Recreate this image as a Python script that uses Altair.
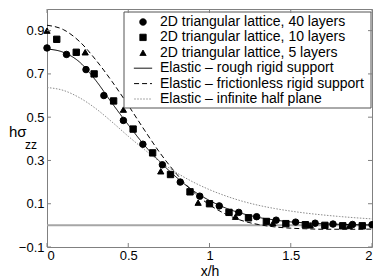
import altair as alt
import pandas as pd

# ---------------- data ----------------
series_names = [
    "2D triangular lattice, 40 layers",
    "2D triangular lattice, 10 layers",
    "2D triangular lattice, 5 layers",
    "Elastic – rough rigid support",
    "Elastic – frictionless rigid support",
    "Elastic – infinite half plane",
]

x_curve = [0.0, 0.1, 0.2, 0.3, 0.4, 0.5, 0.6, 0.7, 0.8, 0.9, 1.0,
           1.1, 1.2, 1.3, 1.4, 1.5, 1.6, 1.7, 1.8, 1.9, 2.0]
rough = [0.815, 0.80, 0.755, 0.67, 0.565, 0.465, 0.37, 0.29, 0.22, 0.16, 0.115,
         0.08, 0.055, 0.037, 0.025, 0.016, 0.011, 0.007, 0.005, 0.003, 0.002]
frictionless = [0.925, 0.905, 0.85, 0.765, 0.665, 0.555, 0.44, 0.33, 0.235, 0.155, 0.095,
                0.052, 0.022, 0.004, -0.007, -0.013, -0.016, -0.018, -0.018, -0.018, -0.017]
half_plane = [0.637, 0.624, 0.59, 0.54, 0.478, 0.412, 0.35, 0.292, 0.242, 0.2, 0.165,
              0.136, 0.112, 0.093, 0.078, 0.066, 0.056, 0.048, 0.041, 0.035, 0.03]

x_40 = [0.0, 0.12, 0.24, 0.35, 0.47, 0.59, 0.71, 0.82, 0.94, 1.06, 1.18, 1.29,
        1.41, 1.53, 1.65, 1.76, 1.88, 2.0]
y_40 = [0.82, 0.79, 0.72, 0.60, 0.485, 0.375, 0.28, 0.20, 0.135, 0.09, 0.06, 0.04,
        0.024, 0.015, 0.01, 0.006, 0.004, 0.003]

x_10 = [0.06, 0.18, 0.29, 0.41, 0.53, 0.65, 0.76, 0.88, 1.0, 1.12, 1.24, 1.35,
        1.47, 1.59, 1.71, 1.82, 1.94]
y_10 = [0.86, 0.80, 0.70, 0.575, 0.445, 0.335, 0.235, 0.155, 0.10, 0.06, 0.035, 0.018,
        0.008, 0.003, 0.0, -0.002, -0.002]

x_5 = [0.0, 0.235, 0.47, 0.70, 0.93, 1.16, 1.39, 1.62, 1.86]
y_5 = [0.90, 0.80, 0.535, 0.25, 0.105, 0.04, 0.01, 0.0, -0.003]

x_ticks = [0, 0.5, 1, 1.5, 2]
y_ticks = [-0.1, 0.1, 0.3, 0.5, 0.7, 0.9]

# ---------------- tables ----------------
pts = pd.concat([
    pd.DataFrame({"x": x_40, "y": y_40, "series": series_names[0]}),
    pd.DataFrame({"x": x_10, "y": y_10, "series": series_names[1]}),
    pd.DataFrame({"x": x_5, "y": y_5, "series": series_names[2]}),
])
lines = pd.concat([
    pd.DataFrame({"x": x_curve, "y": rough, "series": series_names[3]}),
    pd.DataFrame({"x": x_curve, "y": frictionless, "series": series_names[4]}),
    pd.DataFrame({"x": x_curve, "y": half_plane, "series": series_names[5]}),
])

FONT = "Liberation Sans"
W, H = 325, 238

xs = alt.Scale(domain=[0, 2], nice=False, zero=False)
ys = alt.Scale(domain=[-0.1, 1.0], nice=False, zero=False)

x_axis = alt.Axis(values=x_ticks, format="~g", title="x/h", labelPadding=2,
                  titlePadding=2, ticks=False, domain=False, grid=False)
y_axis = alt.Axis(values=y_ticks, format=".1f", title="", labelPadding=3,
                  labelExpr="replace(datum.label, '-', '\u2212')",
                  ticks=False, domain=False, grid=False)


def X(field):
    return alt.X(field, scale=xs, axis=x_axis)


def Y(field):
    return alt.Y(field, scale=ys, axis=y_axis)


legend = alt.Legend(
    title=None, orient="none", legendX=84, legendY=6, padding=0,
    rowPadding=1.4, symbolOffset=5, labelOffset=10,
    labelFont=FONT, labelFontSize=14, labelColor="black", labelLimit=400,
)

shape_scale = alt.Scale(domain=series_names,
                        range=["circle", "square", "triangle-up", "M-3,0H3", "M-3,0H3", "M-3,0H3"])
size_scale = alt.Scale(domain=series_names, range=[42, 34, 58, 60, 60, 60])
color_scale = alt.Scale(domain=series_names,
                        range=["black", "black", "black", "black", "black", "#8c8c8c"])
dash_scale = alt.Scale(domain=series_names,
                       range=[[1, 0], [1, 0], [1, 0], [1, 0], [5, 3], [1.5, 1.5]])
width_scale = alt.Scale(domain=series_names, range=[1, 1, 1, 2, 2, 1.3])

zero_line = alt.Chart(pd.DataFrame({"y": [0.0]})).mark_rule(
    color="#a6a6a6", strokeWidth=2
).encode(y=Y("y:Q"))

curves = alt.Chart(lines).mark_line(interpolate="monotone").encode(
    x=X("x:Q"),
    y=Y("y:Q"),
    stroke=alt.Stroke("series:N", scale=color_scale, legend=legend),
    strokeDash=alt.StrokeDash("series:N", scale=dash_scale, legend=legend),
    strokeWidth=alt.StrokeWidth("series:N", scale=width_scale, legend=legend),
)

points = alt.Chart(pts).mark_point(filled=True, opacity=1, strokeWidth=1).encode(
    x=X("x:Q"),
    y=Y("y:Q"),
    shape=alt.Shape("series:N", scale=shape_scale, legend=legend),
    size=alt.Size("series:N", scale=size_scale, legend=legend),
    fill=alt.Fill("series:N", scale=color_scale, legend=legend),
    stroke=alt.Stroke("series:N", scale=color_scale, legend=legend),
)

legend_box = alt.Chart(pd.DataFrame({"a": [0]})).mark_rect(
    fill="white", stroke="#555555", strokeWidth=1
).encode(x=alt.value(77), x2=alt.value(324), y=alt.value(3), y2=alt.value(99))

xt = pd.DataFrame({"x": x_ticks})
yt = pd.DataFrame({"y": y_ticks})
tick_col = "#808080"
xt_bottom = alt.Chart(xt).mark_rule(color=tick_col).encode(
    x=X("x:Q"), y=alt.value(H), y2=alt.value(H - 4))
xt_top = alt.Chart(xt).mark_rule(color=tick_col).encode(
    x=X("x:Q"), y=alt.value(0), y2=alt.value(4))
yt_left = alt.Chart(yt).mark_rule(color=tick_col).encode(
    y=Y("y:Q"), x=alt.value(0), x2=alt.value(4))
yt_right = alt.Chart(yt).mark_rule(color=tick_col).encode(
    y=Y("y:Q"), x=alt.value(W), x2=alt.value(W - 4))

title_main = alt.Chart(pd.DataFrame({"t": ["hσ"]})).mark_text(
    font=FONT, fontSize=15, align="left", baseline="alphabetic", color="black"
).encode(text="t:N", x=alt.value(-38), y=alt.value(128))
title_sub = alt.Chart(pd.DataFrame({"t": ["zz"]})).mark_text(
    font=FONT, fontSize=12, align="left", baseline="alphabetic", color="black"
).encode(text="t:N", x=alt.value(-22), y=alt.value(140))

chart = alt.layer(
    zero_line, curves, points, legend_box,
    xt_bottom, xt_top, yt_left, yt_right, title_main, title_sub,
).properties(
    width=W, height=H,
    padding={"left": 39, "top": 1, "right": 1, "bottom": 32},
    autosize=alt.AutoSizeParams(type="none"),
).configure_view(
    stroke="#808080", strokeWidth=1
).configure_axis(
    labelFont=FONT, labelFontSize=13, labelColor="black",
    titleFont=FONT, titleFontSize=14, titleFontWeight="normal", titleColor="black",
)

chart.save("out.html", embed_options={"renderer": "svg", "actions": False})
